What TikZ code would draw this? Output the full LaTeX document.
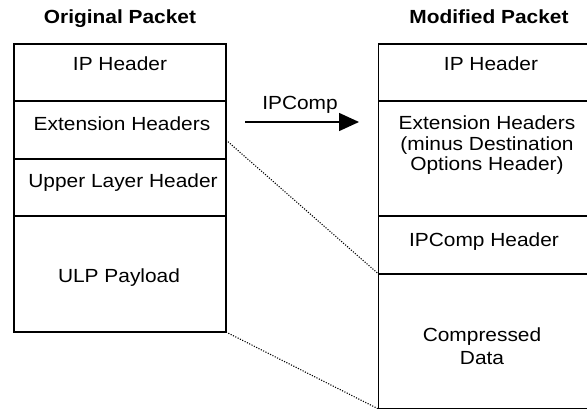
\documentclass[tikz,border=0pt]{standalone}
\usepackage{fontspec}
\setmainfont{Liberation Sans}[FakeStretch=1.1]
\usetikzlibrary{arrows.meta,positioning}

\begin{document}
\begin{tikzpicture}[x=1pt,y=-1pt,->,>={Triangle[length=20pt,width=18pt]},
    cell/.style={draw,rectangle,line width=1.6pt,minimum width=212pt,outer sep=0pt,inner sep=0pt},
    txt/.style={font=\fontsize{19}{20.5}\selectfont,inner sep=0pt},
    title/.style={font=\fontsize{19}{20.5}\selectfont\bfseries,inner sep=0pt,anchor=base},
    link/.style={-,line width=1.1pt,dash pattern=on 1.1pt off 1.5pt}]
  \useasboundingbox (0,0) rectangle (587,409);
  \clip (0,0) rectangle (587,409);

  % original packet
  \node[title] (orig) at (120,24) {Original Packet};
  \node[cell,minimum height=57pt] (ip) at (120,72.5) {};
  \node[cell,minimum height=58pt,below=0pt of ip] (ext) {};
  \node[cell,minimum height=57pt,below=0pt of ext] (ulh) {};
  \node[cell,minimum height=116pt,below=0pt of ulh] (ulp) {};
  \node[txt,anchor=base] (iptxt) at (120,71) {IP Header};
  \node[txt,anchor=base] (exttxt) at (122,131) {Extension Headers};
  \node[txt,anchor=base] (ulhtxt) at (123,188) {Upper Layer Header};
  \node[txt,anchor=base] (ulptxt) at (119,282.7) {ULP Payload};

  % modified packet
  \node[title] (mod) at (489,24) {Modified Packet};
  \node[cell,minimum height=57pt] (mip) at (484.5,72.5) {};
  \node[cell,minimum height=115pt,below=0pt of mip] (mext) {};
  \node[cell,minimum height=58pt,below=0pt of mext] (ipc) {};
  \node[cell,minimum height=135pt,below=0pt of ipc] (cdata) {};
  \node[txt,anchor=base] (miptxt) at (491,71) {IP Header};
  \node[txt,align=center] (mexttxt) at (487,145.2)
    {Extension Headers\\(minus Destination\\Options Header)};
  \node[txt,anchor=base] (ipctxt) at (484,246.7) {IPComp Header};
  \node[txt,align=center,font=\fontsize{19}{23.3}\selectfont] (cdatatxt) at (482,346.5)
    {Compressed\\Data};

  % compression arrow
  \coordinate (from) at (245,122);
  \coordinate (to) at (359,122);
  \draw[line width=1.5pt] (from) -- (to);
  \node[txt,anchor=base] (ipcomp) at (300,110) {IPComp};

  \draw[link] ([yshift=-10pt]ext.east) -- (ipc.south west);
  \draw[link] (ulp.south east) -- (cdata.south west);
\end{tikzpicture}
\end{document}
